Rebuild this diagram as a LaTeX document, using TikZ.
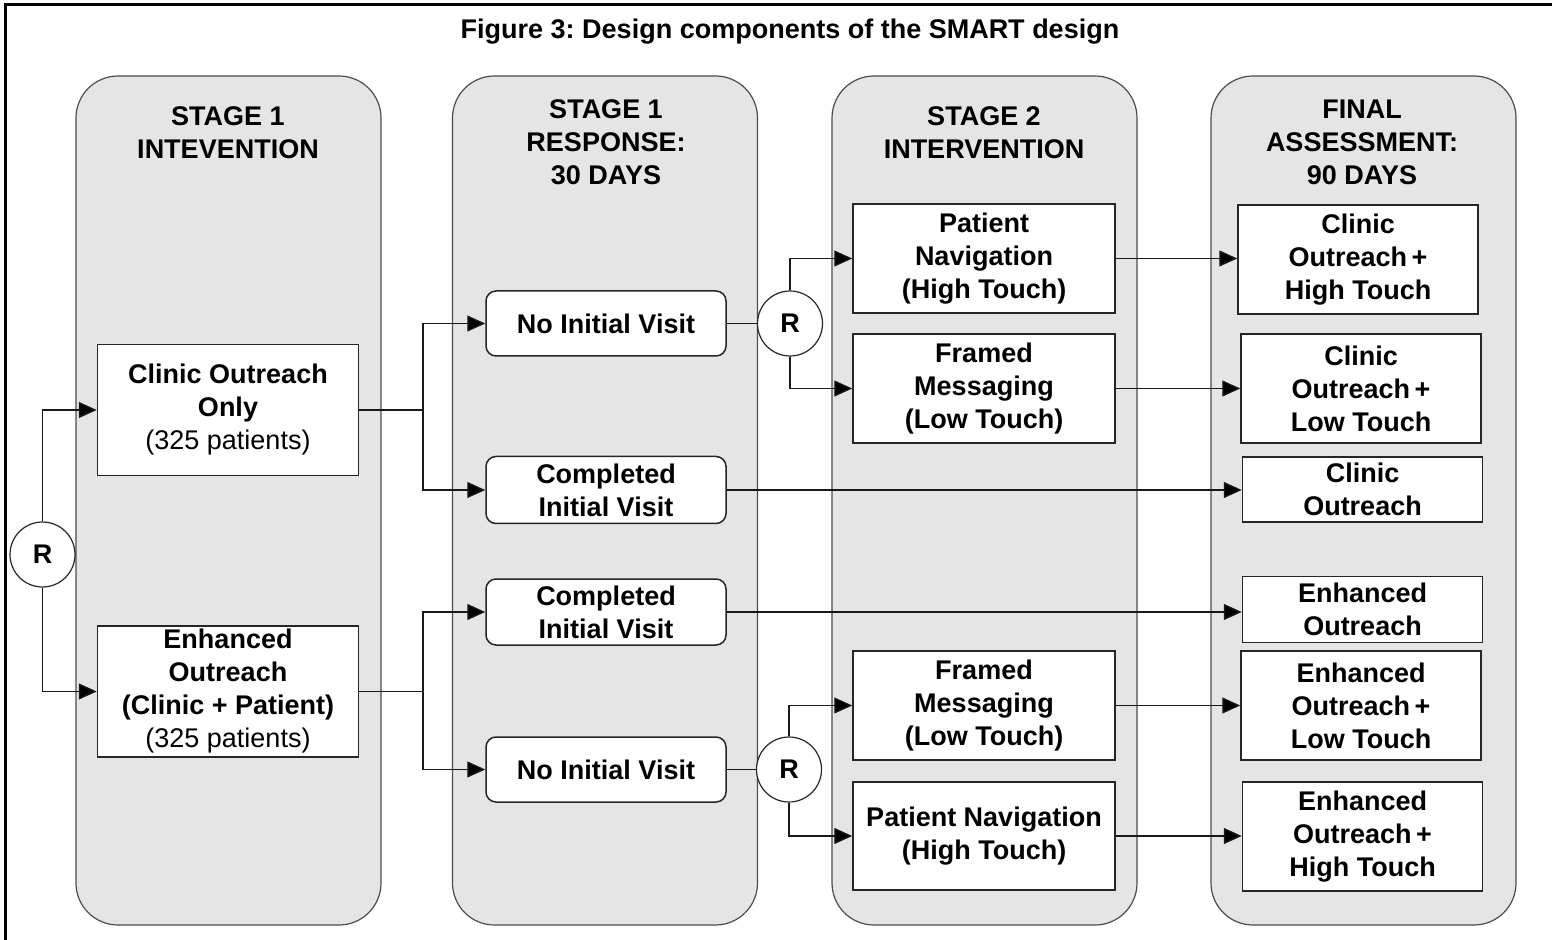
\documentclass[tikz,border=0pt]{standalone}
\usepackage{fontspec}
\setmainfont{Liberation Sans}
\usetikzlibrary{arrows.meta}
\frenchspacing

\begin{document}
\begin{tikzpicture}[
  x=0.5pt, y=-0.5pt,
  every node/.style={font=\fontsize{13.5}{16.5}\selectfont\bfseries, text=black},
  column/.style={draw=black!70, fill=gray!20, line width=0.6pt,
    rounded corners=21pt, minimum width=152.5pt, minimum height=424.5pt, inner sep=0pt},
  header/.style={align=center, inner sep=0pt},
  box/.style={draw=black!85, fill=white, line width=0.75pt, align=center,
    inner sep=0pt, minimum width=120pt},
  rbox/.style={box, rounded corners=5pt},
  rnode/.style={circle, draw=black!85, fill=white, line width=0.6pt,
    minimum size=32.5pt, inner sep=0pt},
  link/.style={draw=black!90, line width=0.65pt},
  arr/.style={link, -{Triangle[length=9pt,width=8pt,fill=black]}},
]
\useasboundingbox (0,0) rectangle (1552,940);

% frame along the top and left edges
\draw[line width=1.5pt] (5,940) -- (5,5) -- (1552,5);

% title
\node (title) at (790,32) {Figure 3: Design components of the SMART design};

% stage columns
\node[column] (col1) at (228.5,500.5) {};
\node[column] (col2) at (605,500.5) {};
\node[column] (col3) at (984.5,500.5) {};
\node[column] (col4) at (1363.5,500.5) {};

\node[header] (h1) at (228,133) {STAGE 1\\INTEVENTION};
\node[header] (h2) at (606,142.5) {STAGE 1\\RESPONSE:\\30 DAYS};
\node[header] (h3) at (984,133) {STAGE 2\\INTERVENTION};
\node[header] (h4) at (1362,142.5) {FINAL\\ASSESSMENT:\\90 DAYS};

% stage 1 intervention
\node[box, minimum width=130.5pt, minimum height=65.5pt] (a1) at (228,410)
  {\raisebox{0pt}{Clinic Outreach}\\Only\\{\mdseries(325 patients)}};
\node[box, minimum width=130.5pt, minimum height=65.5pt] (a2) at (228,691.5)
  {Enhanced\\Outreach\\(Clinic + Patient)\\{\mdseries(325 patients)}};

% stage 1 response
\node[rbox, minimum width=120pt, minimum height=32.5pt] (b1) at (606,323.5) {No Initial Visit};
\node[rbox, minimum width=120pt, minimum height=33.5pt] (b2) at (606,490) {Completed\\Initial Visit};
\node[rbox, minimum width=120pt, minimum height=33pt] (b3) at (606,612) {Completed\\Initial Visit};
\node[rbox, minimum width=120pt, minimum height=32.5pt] (b4) at (606,769.5) {No Initial Visit};

% stage 2 intervention
\node[box, minimum width=131pt, minimum height=54.5pt] (c1) at (984,258.5) {Patient\\Navigation\\(High Touch)};
\node[box, minimum width=131pt, minimum height=54.5pt] (c2) at (984,388.5) {Framed\\Messaging\\(Low Touch)};
\node[box, minimum width=131pt, minimum height=54.5pt] (c3) at (984,705.5) {Framed\\Messaging\\(Low Touch)};
\node[box, minimum width=131pt, minimum height=54pt] (c4) at (984,836) {Patient Navigation\\(High Touch)};

% final assessment
\node[box, minimum width=120pt, minimum height=54.5pt] (d1) at (1358,259.5) {Clinic\\Outreach\,+\\High Touch};
\node[box, minimum width=120pt, minimum height=54.5pt] (d2) at (1361,388.5) {Clinic\\Outreach\,+\\Low Touch};
\node[box, minimum width=120pt, minimum height=32.5pt] (d3) at (1362.5,489.5) {Clinic\\Outreach};
\node[box, minimum width=120pt, minimum height=33pt] (d4) at (1362.5,609.5) {Enhanced\\Outreach};
\node[box, minimum width=120pt, minimum height=54.5pt] (d5) at (1361,705.5) {Enhanced\\Outreach\,+\\Low Touch};
\node[box, minimum width=120pt, minimum height=54.5pt] (d6) at (1362.5,836.5) {Enhanced\\Outreach\,+\\High Touch};

% randomisation points
\node[rnode] (r0) at (42.5,554.5) {R};
\node[rnode] (r1) at (790,323.5) {R};
\node[rnode] (r2) at (789,769.5) {R};

% branch points
\coordinate (j1) at (423,410);
\coordinate (j2) at (423,691.5);

% first randomisation
\draw[arr] (r0.north) |- (a1.west);
\draw[arr] (r0.south) |- (a2.west);

% stage 1 responses
\draw[link] (a1.east) -- (j1);
\draw[arr] (j1) |- (b1.west);
\draw[arr] (j1) |- (b2.west);
\draw[link] (a2.east) -- (j2);
\draw[arr] (j2) |- (b3.west);
\draw[arr] (j2) |- (b4.west);

% re-randomisation of non-responders
\draw[link] (b1.east) -- (r1.west);
\draw[arr] (r1.north) |- (c1.west);
\draw[arr] (r1.south) |- (c2.west);
\draw[link] (b4.east) -- (r2.west);
\draw[arr] (r2.north) |- (c3.west);
\draw[arr] (r2.south) |- (c4.west);

% final assessments
\draw[arr] (c1.east) -- (c1.east -| d1.west);
\draw[arr] (c2.east) -- (c2.east -| d2.west);
\draw[arr] (b2.east) -- (b2.east -| d3.west);
\draw[arr] (b3.east) -- (b3.east -| d4.west);
\draw[arr] (c3.east) -- (c3.east -| d5.west);
\draw[arr] (c4.east) -- (c4.east -| d6.west);
\end{tikzpicture}
\end{document}
